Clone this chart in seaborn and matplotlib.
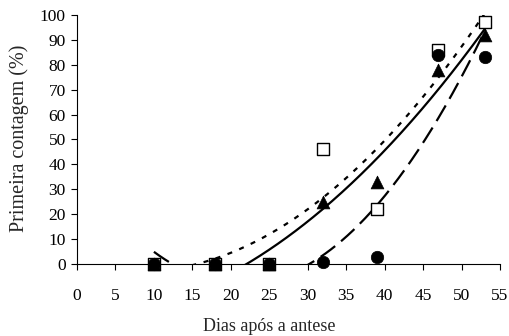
import numpy as np
import pandas as pd
import matplotlib
matplotlib.use("Agg")
import matplotlib.pyplot as plt
import seaborn as sns

# Days after anthesis and first-count germination (%) for three treatments
dias = [10, 18, 25, 32, 39, 47, 53]
quadrado = [0, 0, 0, 46, 22, 86, 97]
triangulo = [0, 0, 0, 25, 33, 78, 92]
circulo = [0, 0, 0, 1, 3, 84, 83]

# Quadratic trend coefficients (c0, c1, c2) for each treatment
coef_quadrado = [-0.2, -0.7756, 0.0505]
coef_triangulo = [-21.62, 0.1202, 0.0390]
coef_circulo = [37.82, -4.303, 0.101]

xticks = list(range(0, 60, 5))
yticks = list(range(0, 110, 10))

sns.set_style("ticks")
plt.rcParams["font.family"] = ["Liberation Serif", "DejaVu Serif"]
plt.rcParams["lines.scale_dashes"] = False

fig = plt.figure(figsize=(5.09, 3.36), dpi=100)
ax = fig.add_axes([0.1513, 0.2143, 0.8310, 0.7411])

xs = np.linspace(dias[0], dias[-1], 300)
def trend(c):
    return c[0] + c[1] * xs + c[2] * xs ** 2

curvas = [
    (coef_quadrado, (0, (3.6, 5.5))),
    (coef_triangulo, "-"),
    (coef_circulo, (0, (13, 5.5))),
]
for coef, estilo in curvas:
    sns.lineplot(x=xs, y=trend(coef), ax=ax, color="black", linewidth=1.6,
                 linestyle=estilo, legend=False)

df = pd.DataFrame({"dias": dias, "q": quadrado, "t": triangulo, "c": circulo})
sns.scatterplot(data=df, x="dias", y="q", ax=ax, marker="s", s=72,
                facecolor="white", edgecolor="black", linewidth=1.0,
                clip_on=False, zorder=5)
sns.scatterplot(data=df, x="dias", y="t", ax=ax, marker="^", s=85,
                color="black", edgecolor="black", linewidth=0.5,
                clip_on=False, zorder=6)
sns.scatterplot(data=df, x="dias", y="c", ax=ax, marker="o", s=80,
                color="black", edgecolor="black", linewidth=0.5,
                clip_on=False, zorder=7)

ax.set_xlim(0, 55)
ax.set_ylim(0, 100)
ax.set_xticks(xticks)
ax.set_yticks(yticks)
ax.tick_params(axis="x", direction="out", length=4, width=0.8, pad=13,
               labelsize=12.5, colors="black")
ax.tick_params(axis="y", direction="out", length=4, width=0.8, pad=4,
               labelsize=12.5, colors="black")
for s in ["top", "right"]:
    ax.spines[s].set_visible(False)
for s in ["left", "bottom"]:
    ax.spines[s].set_linewidth(0.8)
    ax.spines[s].set_color("black")

ax.set_xlabel("Dias após a antese", fontsize=13)
ax.set_ylabel("Primeira contagem (%)", fontsize=14.5)
ax.xaxis.set_label_coords(0.454, -0.215)
ax.yaxis.set_label_coords(-0.114, 0.505)

fig.savefig("out.png", dpi=100)
